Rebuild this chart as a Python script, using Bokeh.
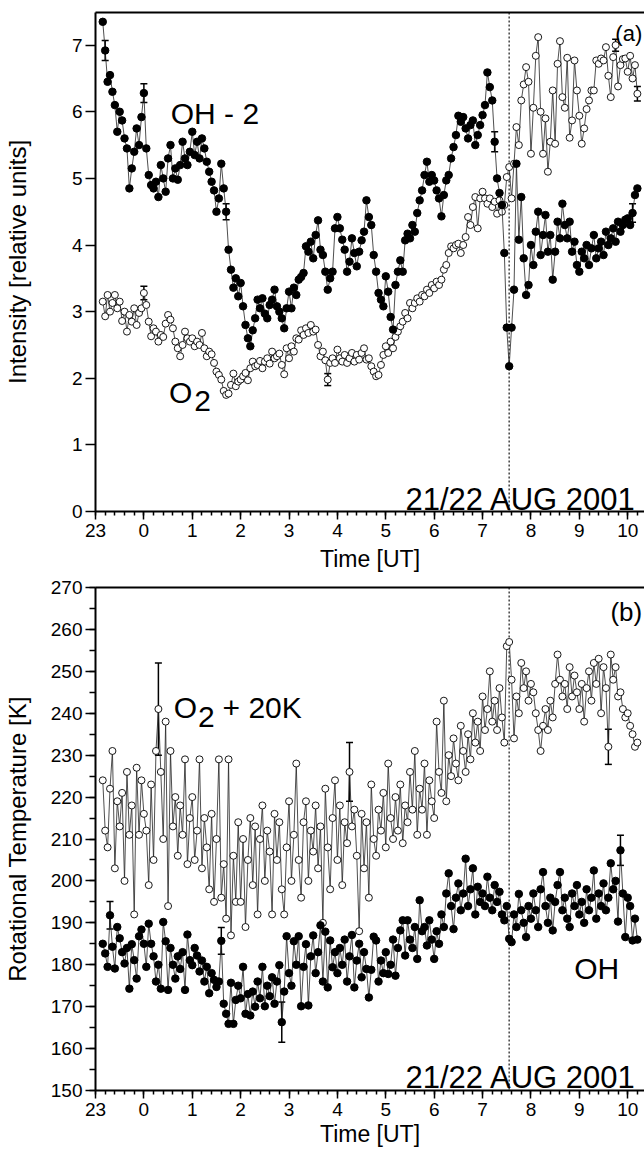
import numpy as np
from bokeh.plotting import figure
from bokeh.models import (ColumnDataSource, FixedTicker, LinearAxis, Span, Whisker,
                          TeeHead, Label, Range1d)
from bokeh.layouts import column
from bokeh.embed import file_html
from bokeh.resources import INLINE

# ---------------- data ----------------
# time in hours UT, 23 UT of 21 Aug written as -1
time_h = [
    -0.85, -0.80, -0.75, -0.70, -0.65, -0.60, -0.55, -0.50, -0.45, -0.40, -0.35, -0.30, -0.25, -0.20, -0.15, -0.10, -0.05,
    0.00, 0.05, 0.10, 0.15, 0.20, 0.25, 0.30, 0.35, 0.40, 0.45, 0.50, 0.55, 0.60, 0.65, 0.70, 0.75, 0.80, 0.85, 0.90, 0.95,
    1.00, 1.05, 1.10, 1.15, 1.20, 1.25, 1.30, 1.35, 1.40, 1.45, 1.50, 1.55, 1.60, 1.65, 1.70, 1.75, 1.80, 1.85, 1.90, 1.95,
    2.00, 2.05, 2.10, 2.15, 2.20, 2.25, 2.30, 2.35, 2.40, 2.45, 2.50, 2.55, 2.60, 2.65, 2.70, 2.75, 2.80, 2.85, 2.90, 2.95,
    3.00, 3.05, 3.10, 3.15, 3.20, 3.25, 3.30, 3.35, 3.40, 3.45, 3.50, 3.55, 3.60, 3.65, 3.70, 3.75, 3.80, 3.85, 3.90, 3.95,
    4.00, 4.05, 4.10, 4.15, 4.20, 4.25, 4.30, 4.35, 4.40, 4.45, 4.50, 4.55, 4.60, 4.65, 4.70, 4.75, 4.80, 4.85, 4.90, 4.95,
    5.00, 5.05, 5.10, 5.15, 5.20, 5.25, 5.30, 5.35, 5.40, 5.45, 5.50, 5.55, 5.60, 5.65, 5.70, 5.75, 5.80, 5.85, 5.90, 5.95,
    6.00, 6.05, 6.10, 6.15, 6.20, 6.25, 6.30, 6.35, 6.40, 6.45, 6.50, 6.55, 6.60, 6.65, 6.70, 6.75, 6.80, 6.85, 6.90, 6.95,
    7.00, 7.05, 7.10, 7.15, 7.20, 7.25, 7.30, 7.35, 7.40, 7.45, 7.50, 7.55, 7.60, 7.65, 7.70, 7.75, 7.80, 7.85, 7.90, 7.95,
    8.00, 8.05, 8.10, 8.15, 8.20, 8.25, 8.30, 8.35, 8.40, 8.45, 8.50, 8.55, 8.60, 8.65, 8.70, 8.75, 8.80, 8.85, 8.90, 8.95,
    9.00, 9.05, 9.10, 9.15, 9.20, 9.25, 9.30, 9.35, 9.40, 9.45, 9.50, 9.55, 9.60, 9.65, 9.70, 9.75, 9.80, 9.85, 9.90, 9.95,
    10.00, 10.05, 10.10, 10.15, 10.20,
]

# (a) OH intensity minus 2 (relative units)
oh_int = [
    7.35, 6.92, 6.45, 6.55, 6.30, 6.10, 5.70, 6.00, 5.87, 5.60, 5.45, 4.85, 5.15, 5.40, 5.75, 5.50, 5.92,
    6.28, 5.45, 5.05, 4.90, 4.85, 4.95, 4.72, 5.20, 5.00, 4.80, 5.30, 5.50, 5.00, 5.15, 4.98, 5.20, 5.55, 5.30, 5.20, 5.40,
    5.70, 5.35, 5.55, 5.30, 5.60, 5.45, 5.25, 5.10, 4.95, 4.82, 4.50, 4.70, 5.22, 4.85, 4.50, 3.93, 3.63, 3.36, 3.50, 3.23,
    3.43, 3.08, 2.80, 2.60, 2.48, 2.72, 2.90, 3.18, 3.05, 3.20, 2.97, 2.90, 3.10, 3.18, 3.33, 3.08, 3.00, 2.90, 2.75, 3.05,
    3.30, 3.05, 3.36, 3.25, 3.48, 3.52, 3.58, 3.98, 3.90, 4.05, 3.80, 4.15, 4.37, 3.93, 3.85, 3.60, 3.33, 3.50, 3.60, 4.25,
    4.42, 4.25, 4.08, 3.93, 3.60, 3.75, 4.10, 3.88, 3.68, 3.90, 4.07, 4.20, 4.67, 4.42, 4.30, 3.85, 3.60, 3.28, 3.18, 3.08,
    3.53, 3.30, 2.92, 2.73, 3.40, 3.60, 3.77, 3.60, 4.07, 4.17, 4.10, 4.30, 4.20, 4.48, 4.67, 4.82, 5.05, 5.25, 4.95, 5.05,
    4.97, 4.82, 4.70, 4.43, 4.75, 4.97, 5.05, 5.30, 5.47, 5.65, 5.94, 5.85, 5.92, 5.75, 5.60, 5.80, 5.87, 5.50, 5.65, 5.80,
    5.95, 6.10, 6.59, 6.37, 6.17, 5.55, 5.00, 4.78, 4.60, 3.88, 2.76, 2.18, 2.76, 3.33, 5.22, 4.08, 4.72, 3.80, 3.25, 3.40,
    4.00, 3.70, 4.20, 4.50, 3.85, 4.15, 4.45, 3.90, 4.15, 3.48, 3.90, 4.35, 4.10, 4.62, 4.30, 4.10, 4.35, 3.90, 4.05, 3.70,
    3.60, 3.90, 3.80, 4.00, 3.70, 3.95, 4.15, 3.80, 3.95, 4.05, 3.85, 4.20, 4.00, 4.10, 4.25, 4.05, 4.35, 4.20, 4.30, 4.38,
    4.40, 4.30, 4.48, 4.75, 4.85,
]

# (a) O2 intensity (relative units)
o2_int = [
    3.15, 2.93, 3.25, 3.00, 3.13, 3.25, 3.05, 3.15, 2.86, 3.00, 2.70, 2.95, 2.85, 3.05, 2.80, 2.98, 3.05,
    3.28, 3.10, 2.85, 2.63, 2.75, 2.70, 2.55, 2.65, 2.62, 2.82, 2.95, 2.88, 2.75, 2.55, 2.45, 2.33, 2.50, 2.70, 2.60, 2.55,
    2.60, 2.48, 2.55, 2.50, 2.68, 2.45, 2.33, 2.40, 2.36, 2.23, 2.10, 2.05, 1.98, 1.81, 1.75, 1.77, 1.90, 2.07, 1.88, 1.95,
    1.98, 2.03, 2.08, 1.97, 2.15, 2.25, 2.18, 2.20, 2.26, 2.15, 2.25, 2.30, 2.22, 2.40, 2.30, 2.33, 2.37, 2.20, 2.06, 2.45,
    2.30, 2.48, 2.40, 2.60, 2.58, 2.72, 2.65, 2.75, 2.68, 2.80, 2.70, 2.73, 2.50, 2.33, 2.40, 2.27, 1.98, 2.23, 2.30, 2.23,
    2.43, 2.30, 2.25, 2.35, 2.23, 2.30, 2.38, 2.25, 2.35, 2.28, 2.38, 2.45, 2.28, 2.30, 2.18, 2.10, 2.03, 2.05, 2.20, 2.35,
    2.48, 2.38, 2.55, 2.45, 2.62, 2.70, 2.78, 2.85, 2.98, 2.90, 3.13, 3.05, 3.13, 3.20, 3.15, 3.25, 3.23, 3.33, 3.28, 3.40,
    3.35, 3.45, 3.40, 3.48, 3.63, 3.70, 3.88, 3.98, 3.95, 4.00, 4.02, 3.88, 4.00, 4.12, 4.42, 4.30, 4.57, 4.72, 4.25, 4.70,
    4.80, 4.70, 4.62, 4.70, 4.57, 4.65, 4.47, 4.67, 4.50, 4.60, 5.02, 5.17, 4.70, 5.22, 5.77, 5.50, 6.17, 6.41, 6.67, 6.45,
    5.37, 6.06, 6.84, 7.12, 6.00, 5.37, 5.90, 5.10, 5.55, 6.32, 5.52, 6.72, 7.06, 6.22, 6.06, 6.81, 5.61, 5.87, 6.77, 6.32,
    5.94, 5.52, 5.75, 6.04, 6.17, 6.32, 6.32, 6.77, 6.72, 6.80, 6.77, 6.97, 6.54, 6.22, 6.82, 7.00, 6.38, 6.70, 6.79, 6.80,
    6.60, 6.84, 6.50, 6.70, 6.27,
]

# (b) O2 rotational temperature + 20 K
o2_temp = [
    224, 212, 208, 222, 231, 203, 219, 213, 221, 200, 226, 211, 218, 192, 227, 211, 224,
    216, 212, 199, 223, 205, 231, 241, 226, 210, 238, 194, 231, 213, 220, 206, 218, 211, 229, 204, 215,
    220, 205, 212, 229, 203, 215, 208, 198, 216, 195, 210, 229, 196, 204, 191, 229, 187, 206, 195, 214,
    195, 210, 189, 205, 215, 199, 213, 192, 210, 218, 200, 212, 207, 192, 216, 205, 214, 198, 192, 208,
    219, 200, 211, 228, 205, 196, 214, 219, 200, 212, 207, 218, 203, 213, 190, 222, 208, 198, 215, 224,
    205, 218, 199, 214, 209, 226, 213, 217, 206, 188, 216, 203, 214, 196, 223, 210, 206, 217, 212, 221,
    208, 228, 215, 210, 220, 212, 223, 209, 218, 214, 226, 217, 231, 211, 222, 217, 228, 211, 224, 219,
    215, 238, 226, 221, 243, 219, 230, 225, 234, 228, 224, 237, 231, 226, 235, 229, 240, 233, 238, 231,
    244, 236, 241, 250, 238, 243, 236, 246, 239, 233, 256, 257, 248, 234, 244, 240, 252, 246, 250, 243,
    247, 245, 240, 236, 231, 237, 241, 236, 243, 239, 247, 254, 248, 244, 247, 241, 251, 244, 249, 245,
    241, 247, 238, 246, 250, 243, 252, 247, 253, 240, 251, 246, 232, 254, 248, 251, 244, 245, 241, 239,
    240, 237, 235, 232, 233,
]

# (b) OH rotational temperature (K)
oh_temp = [
    185, 182.7, 179.5, 191.8, 184.3, 179.1, 189, 186.3, 183, 180.3, 184, 174.3, 184.9, 181.1, 176.7, 186.8, 188.4,
    185, 179.5, 189.8, 185, 182, 176, 180, 174.3, 190.2, 185.6, 174, 184, 180, 176.7, 182, 179, 183, 174, 187.2, 181.1,
    179.9, 184, 182.2, 178.4, 181, 176, 179.5, 173.2, 178, 176.4, 174.7, 176, 185.7, 170.7, 168.3, 165.9, 175.7, 165.9, 171.6, 175,
    172, 179.5, 168.3, 173, 167.9, 173.6, 170, 176, 172, 179.5, 170.1, 175, 172.5, 177, 170.7, 176, 179.9, 166.3, 173.6, 186.8,
    178, 175, 185.6, 180, 186.8, 170.1, 179.5, 184.9, 170.3, 182, 187, 178, 183, 189.4, 176, 187.9, 174.6, 185.8, 179.4, 183,
    178, 184, 180, 186, 176, 182, 187.1, 174.6, 181, 185, 177, 183, 179, 172.2, 178.8, 186.7, 185.8, 176, 181, 178,
    183, 177.8, 180, 186, 177.4, 184, 188.2, 190.6, 182.2, 190.6, 186, 184, 189, 181.4, 195.4, 188, 189, 184.6, 190.6, 186,
    181.4, 188, 185, 192, 189, 197, 201.8, 194, 188.5, 196, 199.4, 193, 197, 205.3, 194, 198, 203, 192, 198.6, 195,
    197, 194, 201, 196, 193, 199, 195, 197.4, 192, 190.6, 194, 186.2, 185.4, 192, 189, 196.9, 193, 190, 186.6, 194,
    191, 197, 193, 189, 198, 202.1, 194, 190, 196, 188.2, 195, 199, 202.1, 193, 196, 191, 189, 197, 194, 199,
    192, 195, 190, 198, 193, 196, 202.5, 191, 197, 194, 199.4, 193, 196, 204.2, 198, 200, 190.3, 207.3, 197, 186.6,
    196, 194, 185.8, 191, 186,
]

# error bars (time, value, half-width)
oh_int_err_t = [-0.80, 0.00, 1.70, 7.25, 10.10]
oh_int_err_v = [6.92, 6.28, 4.50, 5.55, 4.48]
oh_int_err_e = [0.15, 0.14, 0.12, 0.15, 0.14]
o2_int_err_t = [0.00, 3.80, 9.75, 10.20]
o2_int_err_v = [3.28, 1.98, 7.00, 6.27]
o2_int_err_e = [0.10, 0.09, 0.09, 0.11]
o2_temp_err_t = [0.30, 4.25, 9.60]
o2_temp_err_v = [241, 226, 232]
o2_temp_err_e = [11, 7, 4.2]
oh_temp_err_t = [-0.70, 1.60, 2.85, 9.85]
oh_temp_err_v = [191.8, 185.7, 166.3, 207.3]
oh_temp_err_e = [3.3, 3.2, 4.8, 3.6]

event_time = 7.55

x_tick_vals = [-1, 0, 1, 2, 3, 4, 5, 6, 7, 8, 9, 10]
x_tick_labels = ["23", "0", "1", "2", "3", "4", "5", "6", "7", "8", "9", "10"]
y_int_ticks = [0, 1, 2, 3, 4, 5, 6, 7]
y_temp_ticks = [150, 160, 170, 180, 190, 200, 210, 220, 230, 240, 250, 260, 270]

# ---------------- styling ----------------
FONT = "Liberation Sans"
X_MIN, X_MAX = -1.0, 10.347
x_minor = [round(v, 2) for v in np.arange(-1.0, 10.41, 0.2)]


def base_fig(height, y_range, top_border, bottom_border):
    p = figure(width=644, height=height, x_range=Range1d(X_MIN, X_MAX), y_range=y_range,
               output_backend="svg", toolbar_location=None,
               min_border_left=93, min_border_right=0,
               min_border_top=top_border, min_border_bottom=bottom_border)
    p.outline_line_color = None
    p.xgrid.visible = False
    p.ygrid.visible = False
    p.background_fill_color = "white"
    p.border_fill_color = "white"
    xa = p.below[0]
    ya = p.left[0]
    for ax in (xa, ya):
        ax.axis_line_width = 2
        ax.axis_line_color = "black"
        ax.major_tick_line_color = "black"
        ax.major_tick_line_width = 1.5
        ax.minor_tick_line_color = "black"
        ax.minor_tick_line_width = 1.5
        ax.major_tick_in = 0
        ax.minor_tick_in = 0
        ax.major_label_text_font = FONT
        ax.major_label_text_font_size = "19px"
        ax.major_label_text_color = "black"
        ax.axis_label_text_font = FONT
        ax.axis_label_text_font_style = "normal"
        ax.axis_label_text_color = "black"
    xa.axis_label_text_font_size = "23px"
    ya.axis_label_text_font_size = "24px"
    xa.ticker = FixedTicker(ticks=x_tick_vals, minor_ticks=x_minor)
    xa.major_label_overrides = {v: lab for v, lab in zip(x_tick_vals, x_tick_labels)}
    xa.major_tick_out = 8
    xa.minor_tick_out = 4
    xa.major_label_standoff = 4
    xa.axis_label = "Time [UT]"
    ya.major_tick_out = 10
    ya.minor_tick_out = 6
    ya.major_label_standoff = 3
    # top frame line only (no ticks, no labels)
    top = LinearAxis(ticker=FixedTicker(ticks=[]), axis_line_width=2, axis_line_color="black",
                     major_tick_line_color=None, minor_tick_line_color=None,
                     major_label_text_font_size="0px")
    p.add_layout(top, "above")
    p.add_layout(Span(location=event_time, dimension="height", line_color="#444444",
                      line_dash="2 2", line_width=1.5, level="underlay"))
    return p, xa, ya


def add_series(p, x, y, filled):
    p.line(x, y, line_color="#222222", line_width=0.8)
    if filled:
        p.scatter(x, y, marker="circle", size=7.5, fill_color="black", line_color="black")
    else:
        p.scatter(x, y, marker="circle", size=7, fill_color="white", line_color="black",
                  line_width=0.9)


def add_err(p, t, v, e):
    src = ColumnDataSource(dict(t=t, lo=[a - b for a, b in zip(v, e)],
                                up=[a + b for a, b in zip(v, e)]))
    p.add_layout(Whisker(source=src, base="t", upper="up", lower="lo",
                         line_color="black", line_width=1.5,
                         upper_head=TeeHead(size=7, line_color="black", line_width=1.5),
                         lower_head=TeeHead(size=7, line_color="black", line_width=1.5)))


def add_text(p, x, y, text, size, align="left"):
    p.add_layout(Label(x=x, y=y, text=text, text_font=FONT, text_font_size=size,
                       text_color="black", text_align=align, text_baseline="alphabetic"))


# ---------------- panel (a) ----------------
p1, xa1, ya1 = base_fig(574, Range1d(0, 7.49), 12, 61)
ya1.ticker = FixedTicker(ticks=y_int_ticks, minor_ticks=[])
ya1.axis_label = "Intensity [relative units]"
ya1.axis_label_standoff = 38
xa1.axis_label_standoff = 6
add_series(p1, time_h, o2_int, filled=False)
add_series(p1, time_h, oh_int, filled=True)
add_err(p1, o2_int_err_t, o2_int_err_v, o2_int_err_e)
add_err(p1, oh_int_err_t, oh_int_err_v, oh_int_err_e)
add_text(p1, 0.555, 5.97, "OH - 2", "30px")
add_text(p1, 0.52, 1.79, "O", "30px")
add_text(p1, 1.04, 1.655, "2", "30px")
add_text(p1, 10.18, 0.18, "21/22 AUG 2001", "31px", align="right")
add_text(p1, 10.30, 7.17, "(a)", "22px", align="right")

# ---------------- panel (b) ----------------
p2, xa2, ya2 = base_fig(578, Range1d(150, 270), 13, 62)
ya2.ticker = FixedTicker(ticks=y_temp_ticks, minor_ticks=list(range(150, 271, 5)))
ya2.axis_label = "Rotational Temperature [K]"
ya2.axis_label_standoff = 17
xa2.axis_label_standoff = 2
add_series(p2, time_h, o2_temp, filled=False)
add_series(p2, time_h, oh_temp, filled=True)
add_err(p2, o2_temp_err_t, o2_temp_err_v, o2_temp_err_e)
add_err(p2, oh_temp_err_t, oh_temp_err_v, oh_temp_err_e)
add_text(p2, 0.617, 241.4, "O", "30px")
add_text(p2, 1.12, 239.0, "2", "30px")
add_text(p2, 1.626, 241.4, "+ 20K", "30px")
add_text(p2, 8.895, 179.1, "OH", "30px")
add_text(p2, 10.18, 153.2, "21/22 AUG 2001", "31px", align="right")
add_text(p2, 10.30, 264.2, "(b)", "26px", align="right")

layout = column(p1, p2, spacing=0)
open("out.html", "w").write(file_html(layout, INLINE))
